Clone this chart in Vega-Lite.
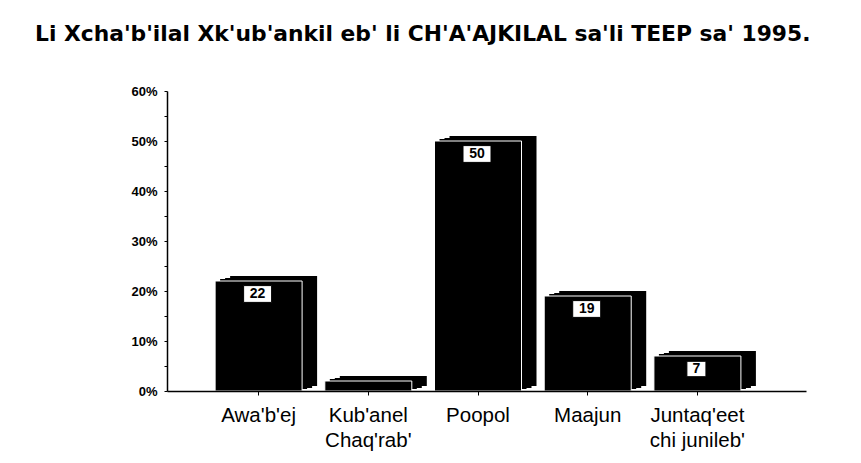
{
  "$schema": "https://vega.github.io/schema/vega-lite/v6.json",
  "width": 639,
  "height": 300,
  "autosize": "none",
  "padding": {"left": 167, "top": 91, "right": 55, "bottom": 72},
  "background": "white",
  "config": {"view": {"stroke": null}, "font": "Liberation Sans"},
  "title": {
    "text": "Li Xcha'b'ilal Xk'ub'ankil eb' li CH'A'AJKILAL sa'li TEEP sa' 1995.",
    "fontSize": 21.8,
    "fontWeight": "bold",
    "font": "DejaVu Sans",
    "color": "black",
    "anchor": "start",
    "frame": "group",
    "dx": -132,
    "baseline": "alphabetic",
    "offset": 22
  },
  "data": {
    "values": [
      {"category": "Awa'b'ej", "value": 22},
      {"category": "Kub'anel Chaq'rab'", "value": 2},
      {"category": "Poopol", "value": 50},
      {"category": "Maajun", "value": 19},
      {"category": "Juntaq'eet chi junileb'", "value": 7}
    ]
  },
  "encoding": {
    "x": {
      "field": "category",
      "type": "nominal",
      "sort": null,
      "scale": {"paddingInner": 0.207, "paddingOuter": 0.516, "align": 0.425},
      "axis": {
        "title": null,
        "labelAngle": 0,
        "labelFontSize": 20.5,
        "labelColor": "black",
        "labelPadding": 10,
        "labelLineHeight": 25,
        "labelBaseline": "top",
        "labelExpr": "indexof(datum.label, ' ') > 0 ? [slice(datum.label, 0, indexof(datum.label, ' ')), slice(datum.label, indexof(datum.label, ' ') + 1)] : datum.label",
        "domainColor": "black",
        "domainWidth": 1.5,
        "tickColor": "black",
        "tickSize": 4,
        "zindex": 1
      }
    },
    "y": {
      "field": "value",
      "type": "quantitative",
      "scale": {"domain": [0, 60]},
      "axis": {
        "title": null,
        "grid": false,
        "values": [0, 5, 10, 15, 20, 25, 30, 35, 40, 45, 50, 55, 60],
        "labelExpr": "datum.value % 10 == 0 ? datum.value + '%' : ''",
        "labelFontSize": 13,
        "labelFontWeight": "bold",
        "labelColor": "black",
        "labelPadding": 7,
        "domainColor": "black",
        "domainWidth": 1.5,
        "tickColor": "black",
        "tickSize": 3,
        "zindex": 1
      }
    }
  },
  "layer": [
    {"mark": {"type": "bar", "color": "black", "xOffset": 5, "yOffset": -2}},
    {"mark": {"type": "bar", "color": "black", "xOffset": 10, "yOffset": -3}},
    {"mark": {"type": "bar", "color": "black", "xOffset": 15, "yOffset": -5}},
    {"mark": {"type": "bar", "color": "black", "stroke": "white", "strokeWidth": 1}},
    {
      "transform": [{"filter": "datum.value >= 5"}],
      "mark": {"type": "point", "filled": true, "fill": "white", "stroke": "black", "strokeWidth": 1, "opacity": 1, "size": 784, "yOffset": 13, "xOffset": -1},
      "encoding": {
        "shape": {
          "condition": {"test": "datum.value >= 10", "value": "M-1,-0.6H1V0.6H-1Z"},
          "value": "M-0.68,-0.55H0.68V0.55H-0.68Z"
        }
      }
    },
    {
      "transform": [{"filter": "datum.value >= 5"}],
      "mark": {"type": "text", "fontSize": 14, "fontWeight": "bold", "color": "black", "yOffset": 13, "xOffset": -1, "baseline": "middle"},
      "encoding": {"text": {"field": "value", "type": "quantitative"}}
    }
  ]
}
